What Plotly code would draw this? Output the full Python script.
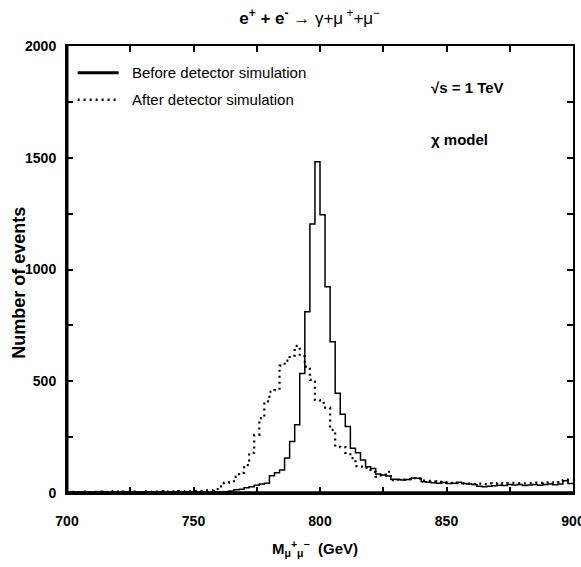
import numpy as np
import plotly.graph_objects as go


# binning of the invariant mass histogram (GeV)
bin_lo = 700
bin_width = 2

# events per 2 GeV bin, 700 -> 900 GeV, one row per 20 GeV
before_sim = [
    4, 3, 5, 4, 3, 5, 4, 4, 3, 5,
    4, 5, 4, 3, 5, 4, 6, 4, 5, 4,
    6, 5, 4, 6, 5, 4, 5, 4, 3, 4,
    4, 6, 9, 14, 17, 24, 28, 35, 40, 44,
    77, 91, 103, 157, 230, 305, 535, 811, 1204, 1482,
    1245, 923, 677, 446, 352, 297, 200, 180, 148, 118,
    110, 85, 80, 76, 62, 60, 58, 60, 67, 66,
    50, 48, 46, 44, 47, 42, 44, 48, 42, 40,
    38, 30, 28, 30, 32, 35, 34, 38, 36, 38,
    34, 36, 38, 35, 38, 40, 37, 40, 55, 42,
]

after_sim = [
    3, 5, 4, 6, 3, 5, 6, 4, 5, 7,
    4, 6, 5, 6, 4, 7, 5, 6, 8, 5,
    7, 6, 8, 7, 9, 8, 10, 12, 12, 18,
    30, 45, 48, 72, 90, 125, 180, 260, 335, 410,
    453, 460, 570, 592, 615, 658, 612, 565, 506, 416,
    403, 382, 282, 207, 205, 179, 156, 120, 118, 112,
    95, 73, 80, 95, 58, 60, 60, 62, 67, 64,
    55, 54, 52, 50, 48, 45, 45, 44, 43, 42,
    40, 42, 40, 43, 42, 44, 42, 43, 45, 44,
    43, 44, 46, 45, 47, 48, 46, 48, 58, 60,
]

x_range = [700, 900]
y_range = [0, 2000]

FONT = "Liberation Sans, Arial, Helvetica, sans-serif"


def step_xy(counts):
    # left edges + last right edge, repeat last count so the step closes at 900
    edges = bin_lo + bin_width * np.arange(len(counts) + 1)
    return edges, list(counts) + [counts[-1]]


fig = go.Figure()

xb, yb = step_xy(before_sim)
fig.add_trace(go.Scatter(x=xb, y=yb, mode="lines", line_shape="hv",
                         line=dict(color="black", width=1.5),
                         name="Before detector simulation"))

xa, ya = step_xy(after_sim)
fig.add_trace(go.Scatter(x=xa, y=ya, mode="lines", line_shape="hv",
                         line=dict(color="black", width=2.2, dash="2px,4px"),
                         name="After detector simulation"))

axis_common = dict(
    showgrid=False, zeroline=False, showline=True, linecolor="black",
    linewidth=2, mirror="allticks", ticks="inside", ticklen=6,
    tickwidth=1.5, tickcolor="black", ticklabeloverflow="allow",
    automargin=False,
    tickfont=dict(family=FONT, size=14, color="black", weight="bold"),
)

fig.update_xaxes(range=x_range, tick0=700, dtick=50,
                 minor=dict(dtick=25, ticks="inside", ticklen=6,
                            tickwidth=1.5, tickcolor="black"),
                 ticklabelstandoff=14, **axis_common)
fig.update_yaxes(range=y_range, tick0=0, dtick=500,
                 minor=dict(dtick=250, ticks="inside", ticklen=6,
                            tickwidth=1.5, tickcolor="black"),
                 ticklabelstandoff=6, **axis_common)

# heavier left / bottom frame
fig.add_shape(type="line", xref="paper", yref="paper", x0=0, x1=1, y0=0, y1=0,
              line=dict(color="black", width=3.5), layer="above")
fig.add_shape(type="line", xref="paper", yref="paper", x0=0, x1=0, y0=0, y1=1,
              line=dict(color="black", width=3), layer="above")

# hand made legend
legend_rows = [("Before detector simulation", 0.940, "solid", 3),
               ("After detector simulation", 0.880, "2px,4px", 2.5)]
for label, yy, dash, w in legend_rows:
    fig.add_shape(type="line", xref="paper", yref="paper",
                  x0=0.021, x1=0.102, y0=yy, y1=yy,
                  line=dict(color="black", width=w, dash=dash))
    fig.add_annotation(text=label, xref="paper", yref="paper", x=0.124, y=yy,
                       xanchor="left", yanchor="middle", showarrow=False,
                       font=dict(family=FONT, size=15, color="black"))

for txt, yy in [("√s = 1 TeV", 0.908), ("χ model", 0.79)]:
    fig.add_annotation(text="<b>" + txt + "</b>", xref="paper", yref="paper",
                       x=0.715, y=yy, xanchor="left", yanchor="middle",
                       showarrow=False,
                       font=dict(family=FONT, size=15, color="black"))

# y axis title
fig.add_annotation(text="<b>Number of events</b>", xref="paper", yref="paper",
                   x=-0.095, y=0.47, textangle=-90, showarrow=False,
                   xanchor="center", yanchor="middle",
                   font=dict(family=FONT, size=18, color="black"))

# x axis title
fig.add_annotation(text="<b>M<sub>μ</sub><sup>+</sup><sub>μ</sub><sup>−</sup>  (GeV)</b>",
                   xref="paper", yref="paper", x=0.49, y=-0.125,
                   showarrow=False, xanchor="center", yanchor="middle",
                   font=dict(family=FONT, size=15, color="black"))

fig.update_layout(
    width=581, height=567,
    margin=dict(l=67, r=8, t=46, b=74),
    plot_bgcolor="white", paper_bgcolor="white",
    showlegend=False,
    title=dict(text="<b>e<sup>+</sup> + e<sup>-</sup></b> → γ+μ<sup> +</sup>+μ<sup>−</sup>",
               x=0.533, y=0.968, xanchor="center", yanchor="middle",
               font=dict(family=FONT, size=17, color="black")),
)

# page body has a default 8px margin; drop it so the figure sits at 0,0
fig.write_html("out.html", config={"displayModeBar": False},
               post_script="document.body.style.margin='0';")
